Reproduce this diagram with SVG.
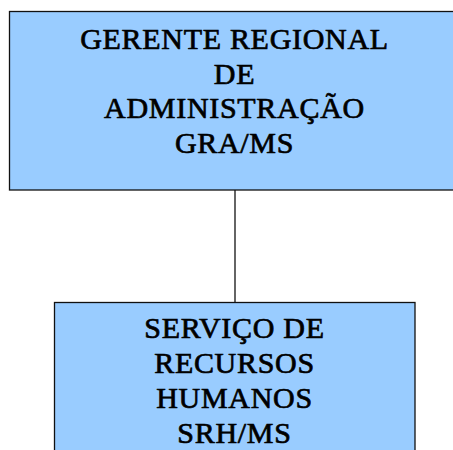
<svg xmlns="http://www.w3.org/2000/svg" width="453" height="450" viewBox="0 0 453 450">
<style>
.box{fill:#99CCFF;stroke:#111;stroke-width:1.3}
.t{font-family:"Liberation Serif","Times New Roman",serif;font-size:30px;fill:#000;stroke:#000;stroke-width:0.7;text-anchor:middle;letter-spacing:0.7px}
.c{stroke:#111;stroke-width:1.3;fill:none}
</style>
<g id="connectors">
<line class="c" x1="235" y1="190" x2="235" y2="302.5"/>
</g>
<g id="gra">
<rect class="box" x="9.5" y="11.5" width="460" height="178.5"/>
<text class="t" x="234.5" y="49">GERENTE REGIONAL</text>
<text class="t" x="234.5" y="83.5">DE</text>
<text class="t" x="234.5" y="118">ADMINISTRAÇÃO</text>
<text class="t" x="234.5" y="152.5">GRA/MS</text>
</g>
<g id="srh">
<rect class="box" x="54.5" y="302.5" width="360.5" height="170"/>
<text class="t" x="234.5" y="338">SERVIÇO DE</text>
<text class="t" x="234.5" y="373">RECURSOS</text>
<text class="t" x="234.5" y="408">HUMANOS</text>
<text class="t" x="234.5" y="442.5">SRH/MS</text>
</g>
</svg>
